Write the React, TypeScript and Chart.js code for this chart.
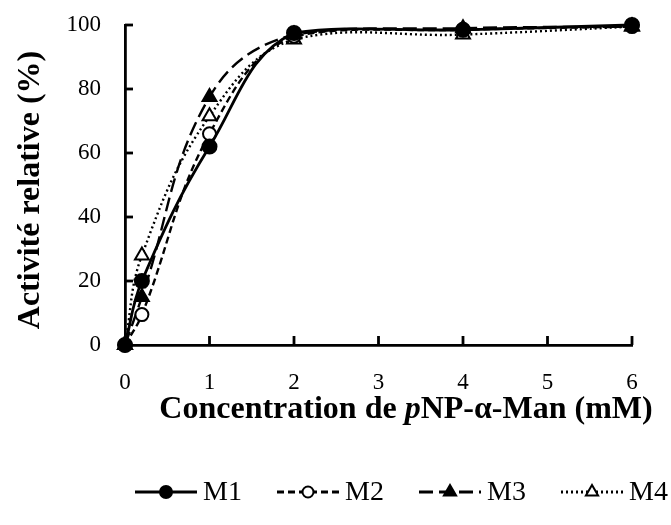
import React, { useEffect, useRef } from "react";
import { Chart, registerables } from "chart.js";

Chart.register(...registerables);

const concentrations = [0, 0.2, 1, 2, 4, 6];
const m1 = [0, 20, 62, 97.5, 98.5, 100];
const m2 = [0, 9.5, 66, 96.5, 98.5, 99.5];
const m3 = [0, 15, 77.5, 97, 99, 99.5];
const m4 = [0, 28, 71.5, 95.5, 97, 99.5];
const seriesNames = ["M1", "M2", "M3", "M4"];
const xTickValues = [0, 1, 2, 3, 4, 5, 6];
const yTickValues = [0, 20, 40, 60, 80, 100];
const yTitle = "Activité relative (%)";
const xTitleParts = [
  { text: "Concentration de ", italic: false },
  { text: "p", italic: true },
  { text: "NP-α-Man (mM)", italic: false },
];

const FONT = "'Liberation Serif', 'Times New Roman', serif";

const toPts = (ys: number[]) => concentrations.map((x, i) => ({ x, y: ys[i] }));

const styles = [
  { dash: [] as number[], width: 2.8, point: "circle", radius: 7, fill: "#000" },
  { dash: [7, 4], width: 2.4, point: "circle", radius: 6.5, fill: "#fff" },
  { dash: [14, 6], width: 2.4, point: "triangle", radius: 8, fill: "#000" },
  { dash: [2, 3], width: 2.4, point: "triangle", radius: 8, fill: "#fff" },
];

const decorPlugin = {
  id: "decor",
  afterDraw(chart: any) {
    const ctx = chart.ctx as CanvasRenderingContext2D;
    const { left, bottom } = chart.chartArea;
    const xs = chart.scales.x;
    const ys = chart.scales.y;
    ctx.save();
    // inner tick marks
    ctx.strokeStyle = "#000";
    ctx.lineWidth = 2.8;
    ctx.setLineDash([]);
    xTickValues.forEach((v) => {
      const px = xs.getPixelForValue(v);
      ctx.beginPath();
      ctx.moveTo(px, bottom);
      ctx.lineTo(px, bottom - 9);
      ctx.stroke();
    });
    yTickValues.forEach((v) => {
      const py = ys.getPixelForValue(v);
      ctx.beginPath();
      ctx.moveTo(left, py);
      ctx.lineTo(left + 8, py);
      ctx.stroke();
    });

    // y title
    ctx.fillStyle = "#000";
    ctx.font = `bold 32px ${FONT}`;
    ctx.textAlign = "center";
    ctx.textBaseline = "middle";
    ctx.save();
    ctx.translate(31, 190);
    ctx.rotate(-Math.PI / 2);
    ctx.fillText(yTitle, 0, 0);
    ctx.restore();

    // x title
    ctx.textAlign = "left";
    ctx.textBaseline = "middle";
    const fontFor = (it: boolean) => `${it ? "italic " : ""}bold 32px ${FONT}`;
    let total = 0;
    xTitleParts.forEach((p) => {
      ctx.font = fontFor(p.italic);
      total += ctx.measureText(p.text).width;
    });
    let tx = 406 - total / 2;
    const ty = 410;
    xTitleParts.forEach((p) => {
      ctx.font = fontFor(p.italic);
      ctx.fillText(p.text, tx, ty);
      tx += ctx.measureText(p.text).width;
    });

    // legend
    const ly = 492;
    const sampleW = 62;
    const itemStep = 142;
    chart.data.datasets.forEach((ds: any, i: number) => {
      const lx = 135 + i * itemStep;
      const st = styles[i];
      ctx.save();
      ctx.strokeStyle = "#000";
      ctx.lineWidth = st.width + 0.4;
      ctx.setLineDash(st.dash);
      ctx.beginPath();
      ctx.moveTo(lx, ly);
      ctx.lineTo(lx + sampleW, ly);
      ctx.stroke();
      ctx.setLineDash([]);
      ctx.lineWidth = 2;
      const cx = lx + sampleW / 2;
      ctx.fillStyle = st.fill;
      ctx.beginPath();
      if (st.point === "circle") {
        ctx.arc(cx, ly, st.radius - 1, 0, Math.PI * 2);
      } else {
        const r = st.radius - 1;
        ctx.moveTo(cx, ly - r);
        ctx.lineTo(cx + r * 0.87, ly + r * 0.5);
        ctx.lineTo(cx - r * 0.87, ly + r * 0.5);
        ctx.closePath();
      }
      ctx.fill();
      ctx.stroke();
      ctx.restore();
      ctx.fillStyle = "#000";
      ctx.textAlign = "left";
      ctx.textBaseline = "middle";
      ctx.font = `28px ${FONT}`;
      ctx.fillText(ds.label, lx + sampleW + 6, ly + 1);
    });
    ctx.restore();
  },
};

export default function App() {
  const ref = useRef<HTMLCanvasElement | null>(null);
  useEffect(() => {
    document.body.style.margin = "0";
    if (!ref.current) return;
    const all = [m1, m2, m3, m4];
    const chart = new Chart(ref.current, {
      type: "scatter",
      data: {
        datasets: all.map((ys, i) => ({
          label: seriesNames[i],
          data: toPts(ys),
          showLine: true,
          borderColor: "#000",
          borderWidth: styles[i].width,
          borderDash: styles[i].dash,
          tension: 0.4,
          fill: false,
          pointStyle: styles[i].point,
          pointRadius: styles[i].radius,
          pointBorderWidth: 2,
          pointBorderColor: "#000",
          pointBackgroundColor: styles[i].fill,
          clip: false,
        })),
      },
      options: {
        animation: false,
        responsive: false,
        maintainAspectRatio: false,
        layout: { padding: { left: 0, top: 25, right: 39, bottom: 120 } },
        plugins: { legend: { display: false }, tooltip: { enabled: false } },
        scales: {
          x: {
            type: "linear",
            min: 0,
            max: 6,
            afterFit: (s: any) => {
              s.height = 60;
              s.paddingLeft = 0;
              s.paddingRight = 0;
            },
            afterBuildTicks: (s: any) => {
              s.ticks = xTickValues.map((v) => ({ value: v }));
            },
            ticks: { color: "#000", padding: 24, font: { family: FONT, size: 23 } },
            grid: { display: false, drawTicks: false },
            border: { display: true, color: "#000", width: 2.8 },
          },
          y: {
            min: 0,
            max: 100,
            afterFit: (s: any) => {
              s.width = 125;
              s.paddingTop = 0;
              s.paddingBottom = 0;
            },
            afterBuildTicks: (s: any) => {
              s.ticks = yTickValues.map((v) => ({ value: v }));
            },
            ticks: { color: "#000", padding: 24, font: { family: FONT, size: 23 } },
            grid: { display: false, drawTicks: false },
            border: { display: true, color: "#000", width: 2.8 },
          },
        },
      },
      plugins: [decorPlugin],
    } as any);
    return () => chart.destroy();
  }, []);
  return <canvas ref={ref} width={671} height={525} style={{ display: "block", width: 671, height: 525 }} />;
}
